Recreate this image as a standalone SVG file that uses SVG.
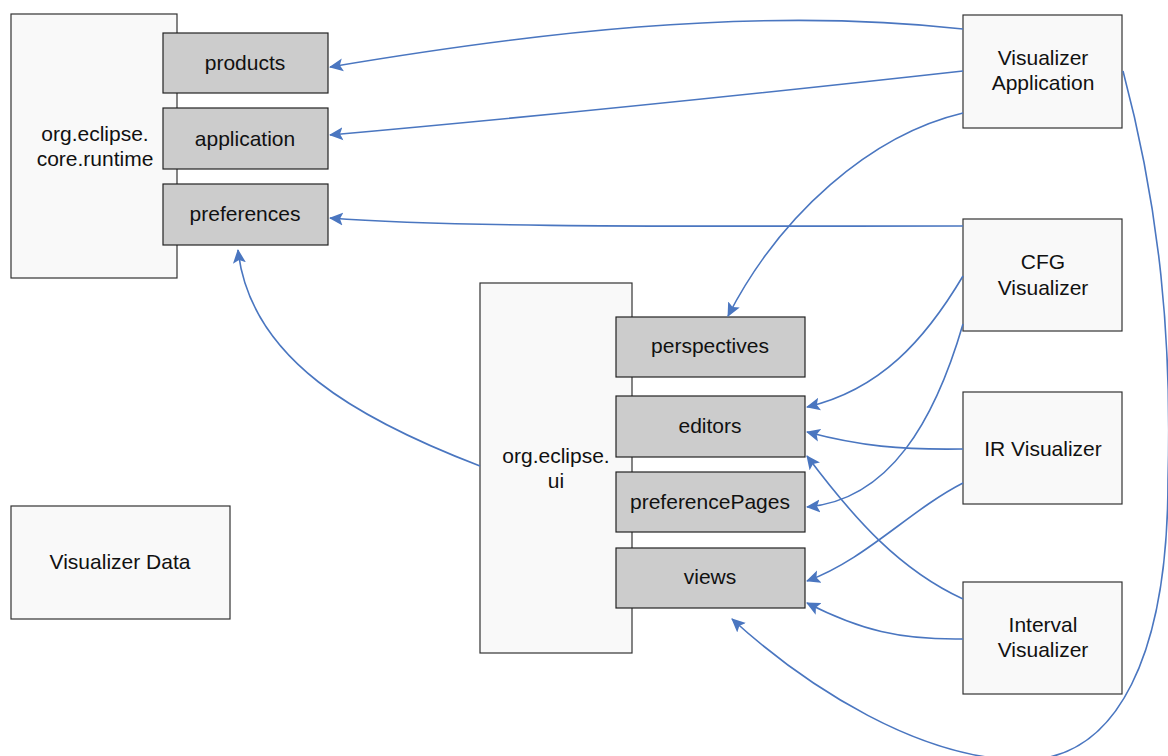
<svg xmlns="http://www.w3.org/2000/svg" width="1168" height="756" viewBox="0 0 1168 756">
<defs>
<style>
.box{fill:#f9f9f9;stroke:#333;stroke-width:1.2}
.sub{fill:#cccccc;stroke:#222;stroke-width:1.2}
text{font-family:"Liberation Sans",Arial,sans-serif;font-size:21px;fill:#111;text-anchor:middle}
.c{fill:none;stroke:#4a76c0;stroke-width:1.6;marker-end:url(#ah)}
</style>
<marker id="ah" markerUnits="userSpaceOnUse" markerWidth="16" markerHeight="14" refX="13" refY="7" orient="auto">
<path d="M0,0.5 L14,7 L0,13.5 L3,7 Z" fill="#4a76c0"/>
</marker>
</defs>
<rect width="1168" height="756" fill="#fff"/>
<g id="runtime">
<rect class="box" x="11" y="14" width="166" height="264"/>
<text x="95" y="141">org.eclipse.</text>
<text x="95" y="166">core.runtime</text>
</g>
<g id="products"><rect class="sub" x="163" y="33" width="165" height="60"/><text x="245" y="70">products</text></g>
<g id="application"><rect class="sub" x="163" y="108" width="165" height="61"/><text x="245" y="146">application</text></g>
<g id="preferences"><rect class="sub" x="163" y="184" width="165" height="61"/><text x="245" y="221">preferences</text></g>
<g id="vdata"><rect class="box" x="11" y="506" width="219" height="113"/><text x="120" y="569">Visualizer Data</text></g>
<g id="ui">
<rect class="box" x="480" y="283" width="152" height="370"/>
<text x="556" y="463">org.eclipse.</text>
<text x="556" y="488">ui</text>
</g>
<g id="perspectives"><rect class="sub" x="616" y="317" width="189" height="60"/><text x="710" y="353">perspectives</text></g>
<g id="editors"><rect class="sub" x="616" y="396" width="189" height="61"/><text x="710" y="433">editors</text></g>
<g id="preferencePages"><rect class="sub" x="616" y="472" width="189" height="60"/><text x="710" y="509">preferencePages</text></g>
<g id="views"><rect class="sub" x="616" y="548" width="189" height="60"/><text x="710" y="584">views</text></g>
<g id="vapp"><rect class="box" x="963" y="15" width="159" height="113"/><text x="1043" y="65">Visualizer</text><text x="1043" y="90">Application</text></g>
<g id="cfg"><rect class="box" x="963" y="219" width="159" height="112"/><text x="1043" y="269">CFG</text><text x="1043" y="295">Visualizer</text></g>
<g id="ir"><rect class="box" x="963" y="392" width="159" height="112"/><text x="1043" y="456">IR Visualizer</text></g>
<g id="interval"><rect class="box" x="963" y="582" width="159" height="112"/><text x="1043" y="632">Interval</text><text x="1043" y="657">Visualizer</text></g>
<g id="connectors">
<path class="c" d="M963,29 C750,5 520,35 330,67"/>
<path class="c" d="M963,71 C720,98 520,118 330,135"/>
<path class="c" d="M963,113 C870,135 780,215 728,316"/>
<path class="c" d="M963,226 C700,226 460,228 330,218"/>
<path class="c" d="M963,276 C925,340 880,390 807,407"/>
<path class="c" d="M963,324 C935,420 890,500 807,507"/>
<path class="c" d="M963,449 C900,450 860,446 807,432"/>
<path class="c" d="M963,483 C910,510 865,560 807,581"/>
<path class="c" d="M963,599 C900,570 855,520 807,456"/>
<path class="c" d="M963,639 C900,640 860,630 807,603"/>
<path class="c" d="M1123,71 C1160,210 1172,340 1168,480 C1168,650 1120,762 1020,760 C920,758 810,690 732,619"/>
<path class="c" d="M480,466 C360,420 250,360 238,250"/>
</g>
</svg>
